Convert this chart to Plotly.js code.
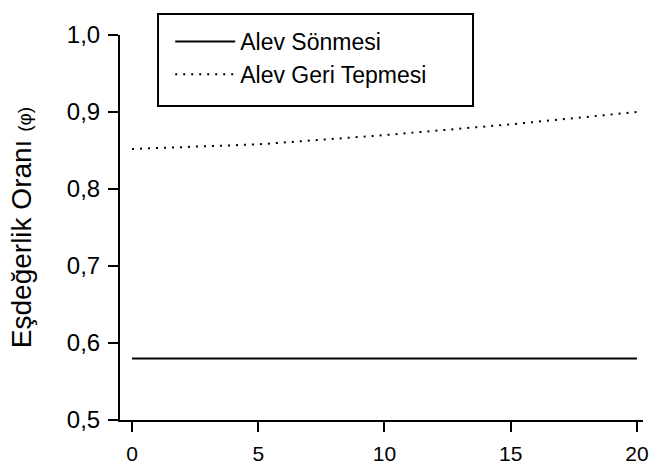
<!DOCTYPE html>
<html>
<head>
<meta charset="utf-8">
<script src="https://cdn.plot.ly/plotly-3.0.1.min.js"></script>
<style>
  html, body { margin: 0; padding: 0; background: #fff; }
  #chart { width: 651px; height: 468px; }
</style>
</head>
<body>
<div id="chart"></div>
<script>
// Time axis values
const xValues = [0, 5, 10, 15, 20];

// Equivalence ratio at flame blow-off (flat) and at flashback (slowly rising)
const blowOff = [0.58, 0.58, 0.58, 0.58, 0.58];
const flashback = [0.852, 0.858, 0.870, 0.884, 0.900];

const seriesNames = ['Alev Sönmesi', 'Alev Geri Tepmesi'];
const xTicks = [0, 5, 10, 15, 20];
const yTicks = [0.5, 0.6, 0.7, 0.8, 0.9, 1.0];

const FONT = 'Liberation Sans, Arial, sans-serif';

const traces = [
  {
    x: xValues, y: blowOff, name: seriesNames[0],
    type: 'scatter', mode: 'lines',
    line: { color: '#000', width: 2 }
  },
  {
    x: xValues, y: flashback, name: seriesNames[1],
    type: 'scatter', mode: 'lines',
    line: { color: '#000', width: 2, dash: '2px,6px' }
  }
];

const layout = {
  width: 651, height: 468,
  margin: { l: 120, r: 8, t: 35, b: 48, pad: 0 },
  paper_bgcolor: '#fff', plot_bgcolor: '#fff',
  separators: ',.',
  font: { family: FONT, color: '#000', size: 24 },
  showlegend: true,
  legend: {
    x: 0.096, y: 1.039, xanchor: 'left', yanchor: 'top',
    borderwidth: 0, bgcolor: 'rgba(0,0,0,0)',
    font: { family: FONT, size: 23, color: '#000' },
    itemwidth: 60,
    tracegroupgap: 0
  },
  // frame around the legend
  shapes: [{
    type: 'rect', xref: 'paper', yref: 'paper',
    x0: 0.0727, x1: 0.675, y0: 0.8156, y1: 1.0545,
    line: { color: '#000', width: 2 },
    fillcolor: 'rgba(0,0,0,0)', layer: 'above'
  }],
  xaxis: {
    range: [-0.475, 20.24],
    tickvals: xTicks,
    ticktext: xTicks.map(String),
    showgrid: false, zeroline: false,
    showline: true, linecolor: '#000', linewidth: 2,
    ticks: 'outside', ticklen: 10, tickwidth: 2, tickcolor: '#000',
    ticklabelstandoff: 4,
    tickfont: { family: FONT, size: 21, color: '#000' },
    fixedrange: true
  },
  yaxis: {
    range: [0.5, 1.0],
    tickvals: yTicks,
    tickformat: '.1f',
    showgrid: false, zeroline: false,
    showline: true, linecolor: '#000', linewidth: 2,
    ticks: 'outside', ticklen: 10, tickwidth: 2, tickcolor: '#000',
    ticklabelstandoff: 3,
    tickfont: { family: FONT, size: 24, color: '#000' },
    title: {
      text: 'Eşdeğerlik Oranı <span style="font-size:19px">(φ)</span>',
      font: { family: FONT, size: 28, color: '#000' },
      standoff: 27
    },
    fixedrange: true
  }
};

Plotly.newPlot('chart', traces, layout, { displayModeBar: false, staticPlot: true });
</script>
</body>
</html>
